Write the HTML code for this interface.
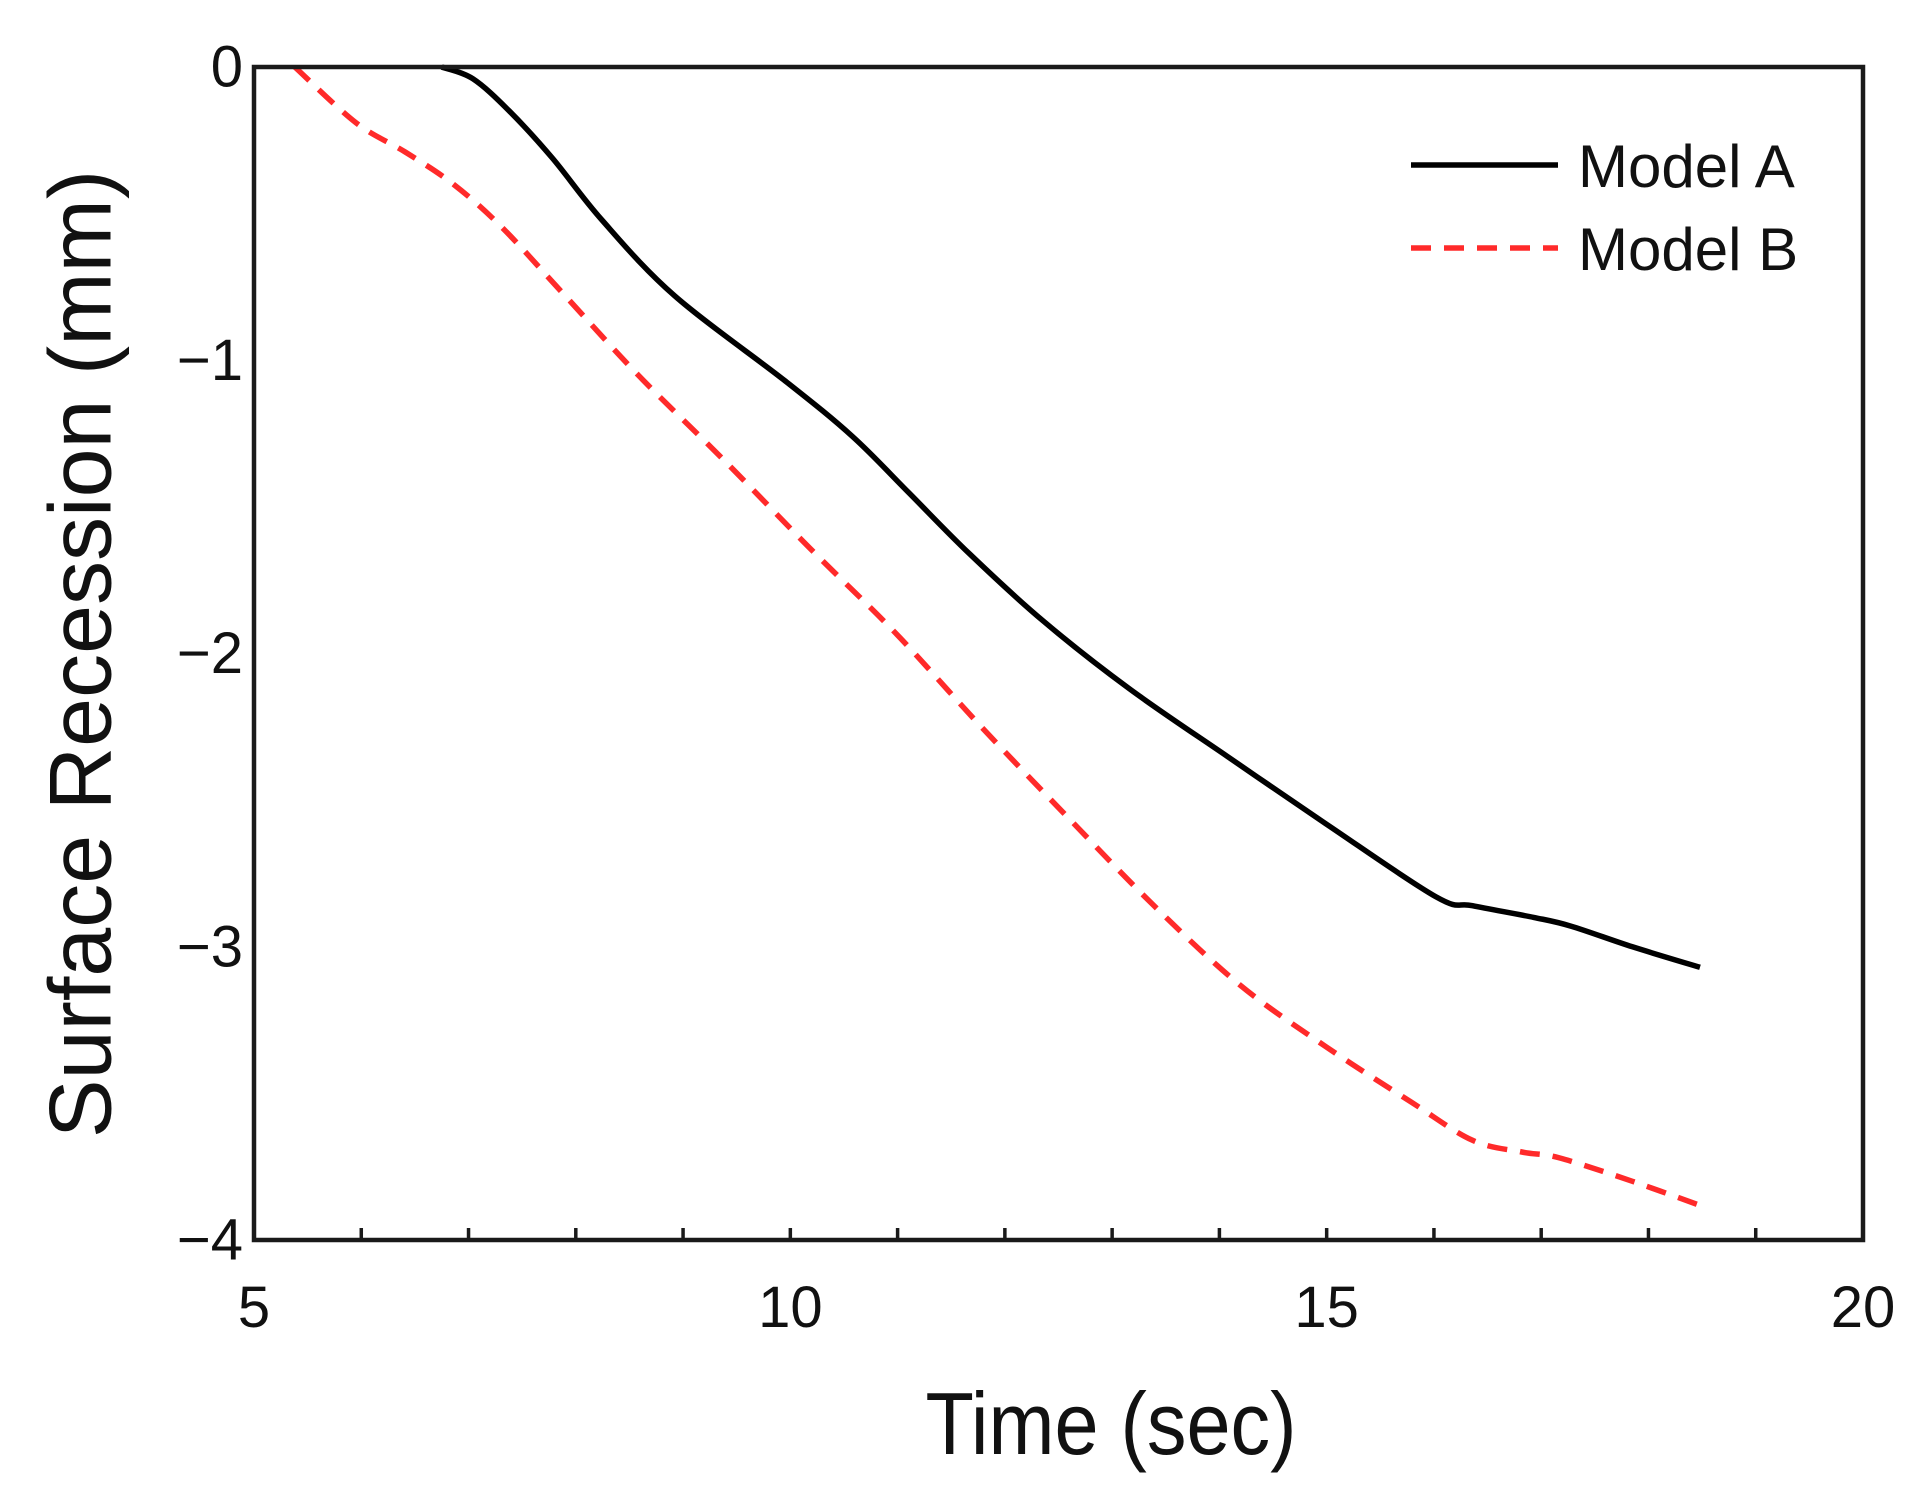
<!DOCTYPE html>
<html><head><meta charset="utf-8"><style>
html,body{margin:0;padding:0;background:#fff;}
svg{display:block;font-family:"Liberation Sans",Arial,sans-serif;}
</style></head><body>
<svg id="chart" width="1927" height="1499" viewBox="0 0 1927 1499">
<g id="ticks"></g>
<g id="series"></g>
<rect x="254" y="67" width="1609" height="1173" fill="none" stroke="#1a1a1a" stroke-width="4.5"/>
<text x="80" y="654" font-size="88" text-anchor="middle" dominant-baseline="central" transform="rotate(-90 80 654)" fill="#111">Surface Recession (mm)</text>
<text x="0" y="0" font-size="88" text-anchor="middle" fill="#111" transform="translate(1111 1454) scale(0.9 1)">Time (sec)</text>
<g>
<line x1="1411" y1="165" x2="1558" y2="165" stroke="#000" stroke-width="5.5"/>
<text x="1578" y="187" font-size="60" fill="#111">Model A</text>
<line x1="1411" y1="248" x2="1558" y2="248" stroke="#ff2a2a" stroke-width="5.5" stroke-dasharray="20,13"/>
<text x="1578" y="270" font-size="60" fill="#111">Model B</text>
</g>
</svg>
<script>
const xTicks = [5, 10, 15, 20];
const yTicks = [0, -1, -2, -3, -4];
const timeA = [6.75,7.04,7.38,7.78,8.24,8.92,9.95,10.58,11.1,11.67,12.36,13.16,14.07,14.99,16.02,16.36,16.93,17.28,17.85,18.48];
const recessionA = [0,-0.04,-0.15,-0.31,-0.52,-0.78,-1.07,-1.26,-1.45,-1.66,-1.89,-2.12,-2.35,-2.58,-2.83,-2.86,-2.9,-2.93,-3.0,-3.07];
const timeB = [5.38,5.95,6.41,6.86,7.32,7.9,8.58,9.38,10.18,10.98,11.78,12.59,13.39,14.19,14.99,15.79,16.36,16.82,17.17,17.85,18.54];
const recessionB = [0,-0.19,-0.29,-0.40,-0.55,-0.78,-1.05,-1.34,-1.64,-1.93,-2.25,-2.56,-2.86,-3.13,-3.34,-3.53,-3.66,-3.70,-3.72,-3.80,-3.89];

const L=254,R=1863,T=67,B=1240;
const X0=5,X1=20,Y0=-4,Y1=0;
const xs=v=>L+(v-X0)/(X1-X0)*(R-L);
const ys=v=>B-(v-Y0)/(Y1-Y0)*(B-T);
const NS="http://www.w3.org/2000/svg";
const tg=document.getElementById('ticks');
const sg=document.getElementById('series');
function mk(tag,attrs,parent){const e=document.createElementNS(NS,tag);for(const k in attrs)e.setAttribute(k,attrs[k]);parent.appendChild(e);return e;}
for(let t=X0+1;t<X1;t++){
  const tk=mk('line',{x1:xs(t),x2:xs(t),y1:B,y2:B-12,stroke:'#1a1a1a','stroke-width':3.5},tg);
  
  
}
xTicks.forEach(v=>{
  const t=mk('text',{x:xs(v),y:1327,'font-size':58,'text-anchor':'middle',fill:'#111'},tg);
  t.textContent=String(v);
  
  
});
yTicks.forEach(v=>{
  const t=mk('text',{x:243,y:ys(v),'font-size':58,'text-anchor':'end','dominant-baseline':'central',fill:'#111'},tg);
  t.textContent=v<0?'\u2212'+Math.abs(v):String(v);
  
  
});
function path(xa,ya){
  const p=xa.map((x,i)=>[xs(x),ys(ya[i])]);
  let d='M'+p[0][0].toFixed(1)+' '+p[0][1].toFixed(1);
  for(let i=0;i<p.length-1;i++){
    const p0=p[Math.max(0,i-1)],p1=p[i],p2=p[i+1],p3=p[Math.min(p.length-1,i+2)];
    const c1=[p1[0]+(p2[0]-p0[0])/6,p1[1]+(p2[1]-p0[1])/6];
    const c2=[p2[0]-(p3[0]-p1[0])/6,p2[1]-(p3[1]-p1[1])/6];
    d+=' C'+c1.map(n=>n.toFixed(1)).join(' ')+' '+c2.map(n=>n.toFixed(1)).join(' ')+' '+p2.map(n=>n.toFixed(1)).join(' ');
  }
  return d;
}
const pa=mk('path',{d:path(timeA,recessionA),fill:'none',stroke:'#000','stroke-width':5.5,'stroke-linejoin':'round'},sg);


const pb=mk('path',{d:path(timeB,recessionB),fill:'none',stroke:'#ff2a2a','stroke-width':5.5,'stroke-dasharray':'20,13'},sg);


</script>
</body></html>
